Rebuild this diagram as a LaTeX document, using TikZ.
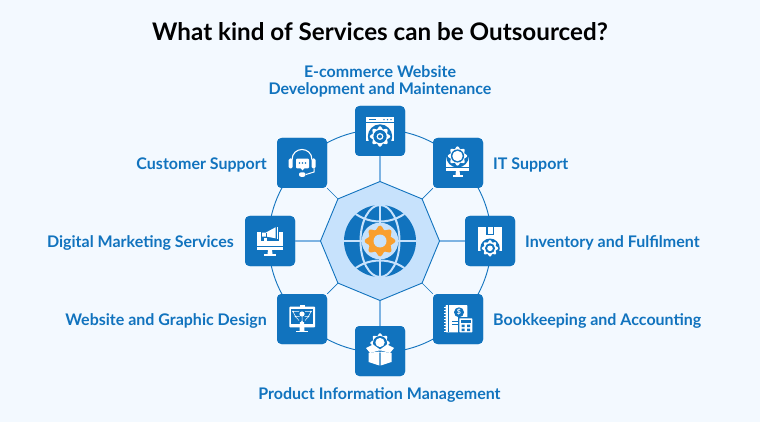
\documentclass[tikz,border=0pt]{standalone}
\usepackage{fontspec}
\setmainfont{Lato}
\usetikzlibrary{calc}
\definecolor{bgc}{HTML}{F3F9FF}
\definecolor{bluec}{HTML}{1173BE}
\definecolor{lightc}{HTML}{C7E2FC}
\definecolor{spokec}{HTML}{7DB3E2}
\definecolor{orangec}{HTML}{F99F2E}
\newcommand{\gearshape}[5]{% x y r fill halo
  \fill[#5] (#1,#2) circle ({#3*1.22});
  \fill[#4,shift={(#1,#2)}] plot[smooth cycle,samples=49,domain=0:352.5,variable=\t] (\t:{#3*(0.9+0.13*cos(8*\t))});
}
\tikzset{
  iconbox/.style={draw=none,fill=bluec,rounded corners=4.5,minimum width=50,minimum height=50,inner sep=0},
  svc/.style={text=bluec,font=\fontsize{16}{16.4}\selectfont\bfseries,inner sep=0,align=center},
  ring/.style={draw=bluec,line width=.9},
  axisspoke/.style={draw=spokec,line width=1.8},
  diagspoke/.style={draw=bluec,line width=.7},
  wh/.style={fill=white,draw=none},
  bl/.style={fill=bluec,draw=none},
  bline/.style={draw=bluec,line width=1}
}
\begin{document}
\begin{tikzpicture}[x=1pt,y=-1pt]
\useasboundingbox (0,0) rectangle (760,422);
\fill[bgc] (0,0) rectangle (760,422);
\node[inner sep=0,font=\fontsize{24.2}{26}\selectfont\bfseries,text=black] (title) at (380,32) {What kind of Services can be Outsourced?};
\coordinate (c) at (380,241);
\foreach \n/\a in {o1/90,o2/45,o3/0,o4/-45,o5/-90,o6/-135,o7/180,o8/135}
  \coordinate (\n) at ($(c)+(\a:59.5)$);
\node[iconbox] (top) at (380,131) {};
\node[iconbox] (it) at (458,163) {};
\node[iconbox] (inv) at (490,241) {};
\node[iconbox] (book) at (458,319) {};
\node[iconbox] (prod) at (380,351) {};
\node[iconbox] (web) at (302,319) {};
\node[iconbox] (dig) at (270,241) {};
\node[iconbox] (cust) at (302,163) {};
\draw[ring] (c) circle (111.5);
\draw[axisspoke] (o5) -- (top.south);
\draw[axisspoke] (o1) -- (prod.north);
\draw[axisspoke] (o3) -- (dig.east);
\draw[axisspoke] (o7) -- (inv.west);
\draw[diagspoke] (o2) -- (cust.south east);
\draw[diagspoke] (o4) -- (web.north east);
\draw[diagspoke] (o6) -- (book.north west);
\draw[diagspoke] (o8) -- (it.south west);
\foreach \p/\q in {380/131,458/163,490/241,458/319,380/351,302/319,270/241,302/163}
  \node[iconbox] at (\p,\q) {};
% centre octagon
\filldraw[fill=lightc,draw=bluec,line width=.9] (o1)--(o2)--(o3)--(o4)--(o5)--(o6)--(o7)--(o8)--cycle;
% globe
\fill[bluec] (c) circle (36);
\begin{scope}
\clip (c) circle (36.2);
\draw[lightc,line width=2] (344,241)--(416,241) (380,205)--(380,277);
\draw[lightc,line width=2] (c) ellipse (19.5 and 36);
\draw[lightc,line width=2] (349,208) .. controls (365,226) and (395,226) .. (411,208);
\draw[lightc,line width=2] (349,274) .. controls (365,256) and (395,256) .. (411,274);
\end{scope}
\gearshape{380}{241}{15}{orangec}{lightc}
\fill[lightc] (c) circle (6.5);
% top icon: browser
\fill[wh] (366,116.7) rectangle (394,140.7);
\draw[bline] (366,122.6)--(394,122.6);
\draw[bluec,line width=1.1] (369,119.6)--(376,119.6);
\fill[bl] (384,119.6) circle (.8) (387.5,119.6) circle (.8) (391,119.6) circle (.8);
\gearshape{380}{136.5}{10}{white}{bluec}
\fill[bluec] (380,136.5) circle (6.6);
\fill[white] (380,136.5) circle (3.4);
\fill[bluec] (380,136.5) circle (2);
% customer support: headset
\draw[white,line width=1.1] (292,160) .. controls (292,146) and (312,146) .. (312,160);
\fill[wh,rounded corners=1.5] (288.5,158.5) rectangle (292.5,168.5);
\fill[wh,rounded corners=1.5] (311.5,158.5) rectangle (315.5,168.5);
\fill[wh,rounded corners=1] (296,158.7) rectangle (309,168.3);
\fill[wh] (300.5,168)--(304.5,168)--(302.5,170.5)--cycle;
\fill[bl] (299.5,163) circle (.8) (302.5,163) circle (.8) (305.5,163) circle (.8);
\draw[white,line width=1] (314,168.5)--(314,172)--(306,174.5);
\fill[wh,rounded corners=2] (299,172.3) rectangle (305.5,176.8);
% IT support: monitor + gear
\fill[wh] (446,156.7) rectangle (469.3,170.7);
\draw[bline] (446,167.3)--(469.3,167.3);
\fill[wh] (456,170)--(459.5,170)--(460,175)--(455.5,175)--cycle;
\fill[wh] (453,175) rectangle (463,176.6);
\gearshape{457.5}{156}{9.4}{white}{bluec}
\fill[bluec] (457.5,156) circle (6.6);
\fill[white] (457.5,156) circle (5.2);
% inventory: parcel + gear
\fill[wh] (478,227.3) rectangle (502,250.7);
\fill[bl] (486,227.3) rectangle (494,235);
\fill[wh] (487.5,227.3) rectangle (492.5,233.5);
\gearshape{490}{248.3}{8}{white}{bluec}
\fill[bluec] (490,248.3) circle (5);
\fill[white] (490,248.3) circle (2.8);
% digital marketing: monitor + megaphone
\fill[wh] (257,231.7) rectangle (283,250);
\draw[bline] (257,246.5)--(283,246.5);
\fill[wh] (268,250)--(272,250)--(272.5,254)--(267.5,254)--cycle;
\fill[wh] (264,254) rectangle (276,255.5);
\fill[bl] (261,230) rectangle (279,241);
\fill[wh] (262,232.5)--(266,232.5)--(275.5,227.3)--(275.5,238.3)--(266,236.5)--(262,236.5)--cycle;
\draw[bluec,line width=.8] (266,232.5)--(266,236.5);
\fill[wh] (276.6,226.5) rectangle (278.4,239);
\fill[wh] (263.5,237.5) rectangle (266.5,243.5);
% website: monitor with network
\fill[wh,rounded corners=.8] (289.3,306.7) rectangle (315,327.3);
\fill[bl] (291,308.5) rectangle (313.3,323.5);
\fill[wh] (300,322)--(304,322)--(304.5,331)--(299.5,331)--cycle;
\fill[wh] (296,331) rectangle (308,332.4);
\fill[wh] (299.5,304.6) rectangle (304.5,309);
\fill[wh] (302,314) circle (2.6);
\draw[white,line width=.5] (293,311.5)--(295.5,316.5)--(299,320.5) (311,311.5)--(308.5,316.5)--(305,320.5) (302,316)--(302,321.5) (293,311.5)--(299,311.5) (311,311.5)--(305,311.5) (295.5,316.5)--(299.5,316.5) (308.5,316.5)--(304.5,316.5);
\fill[wh] (293,311.5) circle (.9) (311,311.5) circle (.9) (295.5,316.5) circle (.9) (308.5,316.5) circle (.9) (302,321.5) circle (.9);
% bookkeeping
\fill[wh,rounded corners=.8] (445.5,305) rectangle (467.3,332.3);
\draw[bluec,line width=.7] (448,305)--(448,332.3);
\foreach \yy in {307,310,313,316,319,322,325,328,331}
  \draw[white,line width=.8] (444,\yy)--(446,\yy);
\fill[bl] (459,312.3) circle (5);
\node[inner sep=0,text=white,font=\fontsize{7}{7}\selectfont\bfseries] (dollar) at (459,312.3) {\$};
\draw[bluec,line width=.8] (452,321)--(458,321) (452,324.5)--(458,324.5);
\fill[bl] (458,316.8) rectangle (473.5,333.5);
\fill[wh,rounded corners=.6] (459.3,318.3) rectangle (472.3,332.3);
\fill[bl] (461,320) rectangle (470.5,322.5);
\fill[bl] (461.5,324.5) rectangle (464.5,327) (467,324.5) rectangle (470,327) (461.5,328.5) rectangle (464.5,331) (467,328.5) rectangle (470,331);
% product information
\gearshape{380}{343}{9.5}{white}{bluec}
\fill[bluec] (380,343) circle (7);
\fill[white] (380,342.5) circle (4.6);
\fill[bl] (370,346.5) rectangle (390,352);
\fill[wh] (366,348)--(373,344.5)--(380,349.5)--(387,344.5)--(394,348)--(390,353)--(381,350.5)--(379,350.5)--(370,353)--cycle;
\fill[wh] (368.5,353)--(379.3,351.5)--(379.3,365.5)--(368.5,362)--cycle;
\fill[wh] (380.7,351.5)--(391.5,353)--(391.5,362)--(380.7,365.5)--cycle;
% labels
\node[svc] (l1) at (380,81.5) {\vphantom{y}E-commerce Website\\[0pt]Development and Maintenance};
\node[svc,anchor=east] (l2) at (267,164.5) {Customer Support};
\node[svc,anchor=west] (l3) at (493,164.5) {IT Support};
\node[svc,anchor=east] (l4) at (234,242.5) {Digital Marketing Services};
\node[svc,anchor=west] (l5) at (525,242.5) {Inventory and Fulfilment};
\node[svc,anchor=east] (l6) at (267,320.5) {Website and Graphic Design};
\node[svc,anchor=west] (l7) at (493,320.5) {Bookkeeping and Accounting};
\node[svc] (l8) at (379.5,395) {Product Information Management};
\end{tikzpicture}
\end{document}
